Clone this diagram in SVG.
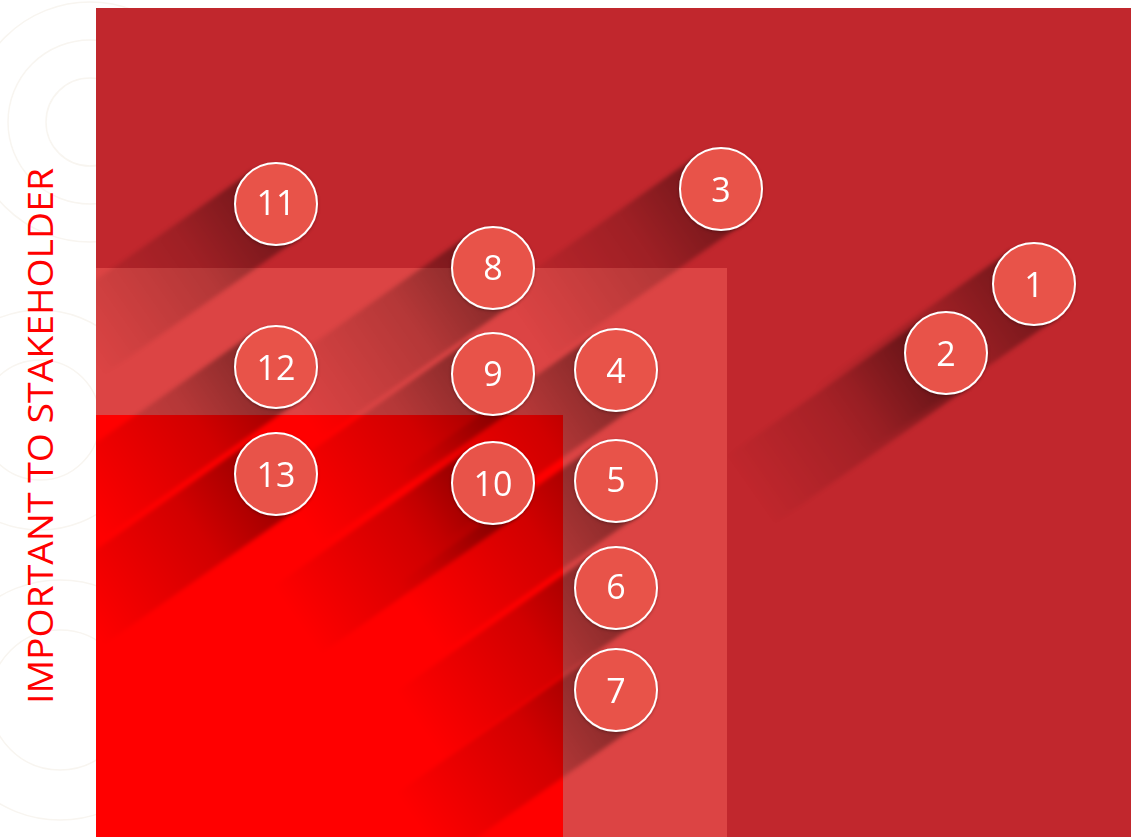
<svg xmlns="http://www.w3.org/2000/svg" width="1131" height="837" viewBox="0 0 1131 837">
<style>
.bgc{fill:none;stroke:#f8f5f0;stroke-width:1.5}
.node circle{fill:#e8524a;stroke:#ffffff;stroke-width:2}
.node text{fill:#ffffff;font-family:"Open Sans","Liberation Sans",sans-serif;font-size:34px;text-anchor:middle;dominant-baseline:central}
.sh{fill:url(#shg)}
</style>
<defs>
<linearGradient id="shg" x1="0" y1="0" x2="1" y2="0">
<stop offset="0" stop-color="#000" stop-opacity="0.42"/>
<stop offset="0.4" stop-color="#000" stop-opacity="0.18"/>
<stop offset="1" stop-color="#000" stop-opacity="0"/>
</linearGradient>
<filter id="soft" x="-20%" y="-20%" width="140%" height="140%"><feGaussianBlur stdDeviation="2"/></filter>
<filter id="ds" x="-20%" y="-20%" width="140%" height="140%"><feDropShadow dx="0" dy="1" stdDeviation="1.5" flood-color="#000" flood-opacity="0.3"/></filter>
<clipPath id="area"><rect x="96" y="8" width="1035" height="829"/></clipPath>
<g id="shadow"><rect class="sh" x="0" y="-41" width="240" height="82"/></g>
</defs>
<rect width="1131" height="837" fill="#ffffff"/>
<g id="bg-pattern">
<circle class="bgc" cx="90" cy="122" r="44"/>
<circle class="bgc" cx="90" cy="122" r="82"/>
<circle class="bgc" cx="90" cy="122" r="120"/>
<circle class="bgc" cx="40" cy="420" r="60"/>
<circle class="bgc" cx="40" cy="420" r="110"/>
<circle class="bgc" cx="60" cy="700" r="70"/>
<circle class="bgc" cx="60" cy="700" r="120"/>
</g>
<rect x="96" y="8" width="1035" height="829" fill="#c1272d"/>
<rect x="96" y="268" width="631" height="569" fill="#dc4444"/>
<rect x="96" y="415" width="467" height="422" fill="#ff0000"/>
<g id="shadows" clip-path="url(#area)">
<g filter="url(#soft)">
<use href="#shadow" transform="translate(1034,284) rotate(145)"/>
<use href="#shadow" transform="translate(946,353) rotate(145)"/>
<use href="#shadow" transform="translate(721,189) rotate(145)"/>
<use href="#shadow" transform="translate(616,370) rotate(145)"/>
<use href="#shadow" transform="translate(616,481) rotate(145)"/>
<use href="#shadow" transform="translate(616,588) rotate(145)"/>
<use href="#shadow" transform="translate(616,690) rotate(145)"/>
<use href="#shadow" transform="translate(493,268) rotate(145)"/>
<use href="#shadow" transform="translate(493,374) rotate(145)"/>
<use href="#shadow" transform="translate(493,483) rotate(145)"/>
<use href="#shadow" transform="translate(276,204) rotate(145)"/>
<use href="#shadow" transform="translate(276,367) rotate(145)"/>
<use href="#shadow" transform="translate(276,474) rotate(145)"/>
</g>
</g>
<g id="connectors"/>
<g id="n1" class="node" filter="url(#ds)"><circle cx="1034" cy="284" r="41"/><text x="1034" y="284">1</text></g>
<g id="n2" class="node" filter="url(#ds)"><circle cx="946" cy="353" r="41"/><text x="946" y="353">2</text></g>
<g id="n3" class="node" filter="url(#ds)"><circle cx="721" cy="189" r="41"/><text x="721" y="189">3</text></g>
<g id="n4" class="node" filter="url(#ds)"><circle cx="616" cy="370" r="41"/><text x="616" y="370">4</text></g>
<g id="n5" class="node" filter="url(#ds)"><circle cx="616" cy="481" r="41"/><text x="616" y="479">5</text></g>
<g id="n6" class="node" filter="url(#ds)"><circle cx="616" cy="588" r="41"/><text x="616" y="586">6</text></g>
<g id="n7" class="node" filter="url(#ds)"><circle cx="616" cy="690" r="41"/><text x="616" y="690">7</text></g>
<g id="n8" class="node" filter="url(#ds)"><circle cx="493" cy="268" r="41"/><text x="493" y="267">8</text></g>
<g id="n9" class="node" filter="url(#ds)"><circle cx="493" cy="374" r="41"/><text x="493" y="373">9</text></g>
<g id="n10" class="node" filter="url(#ds)"><circle cx="493" cy="483" r="41"/><text x="493" y="483">10</text></g>
<g id="n11" class="node" filter="url(#ds)"><circle cx="276" cy="204" r="41"/><text x="276" y="202">11</text></g>
<g id="n12" class="node" filter="url(#ds)"><circle cx="276" cy="367" r="41"/><text x="276" y="367">12</text></g>
<g id="n13" class="node" filter="url(#ds)"><circle cx="276" cy="474" r="41"/><text x="276" y="474">13</text></g>
<text transform="translate(53,436) rotate(-90)" text-anchor="middle" fill="#ff0000" font-family="'Open Sans','Liberation Sans',sans-serif" font-size="35" textLength="536" lengthAdjust="spacingAndGlyphs">IMPORTANT TO STAKEHOLDER</text>
</svg>
